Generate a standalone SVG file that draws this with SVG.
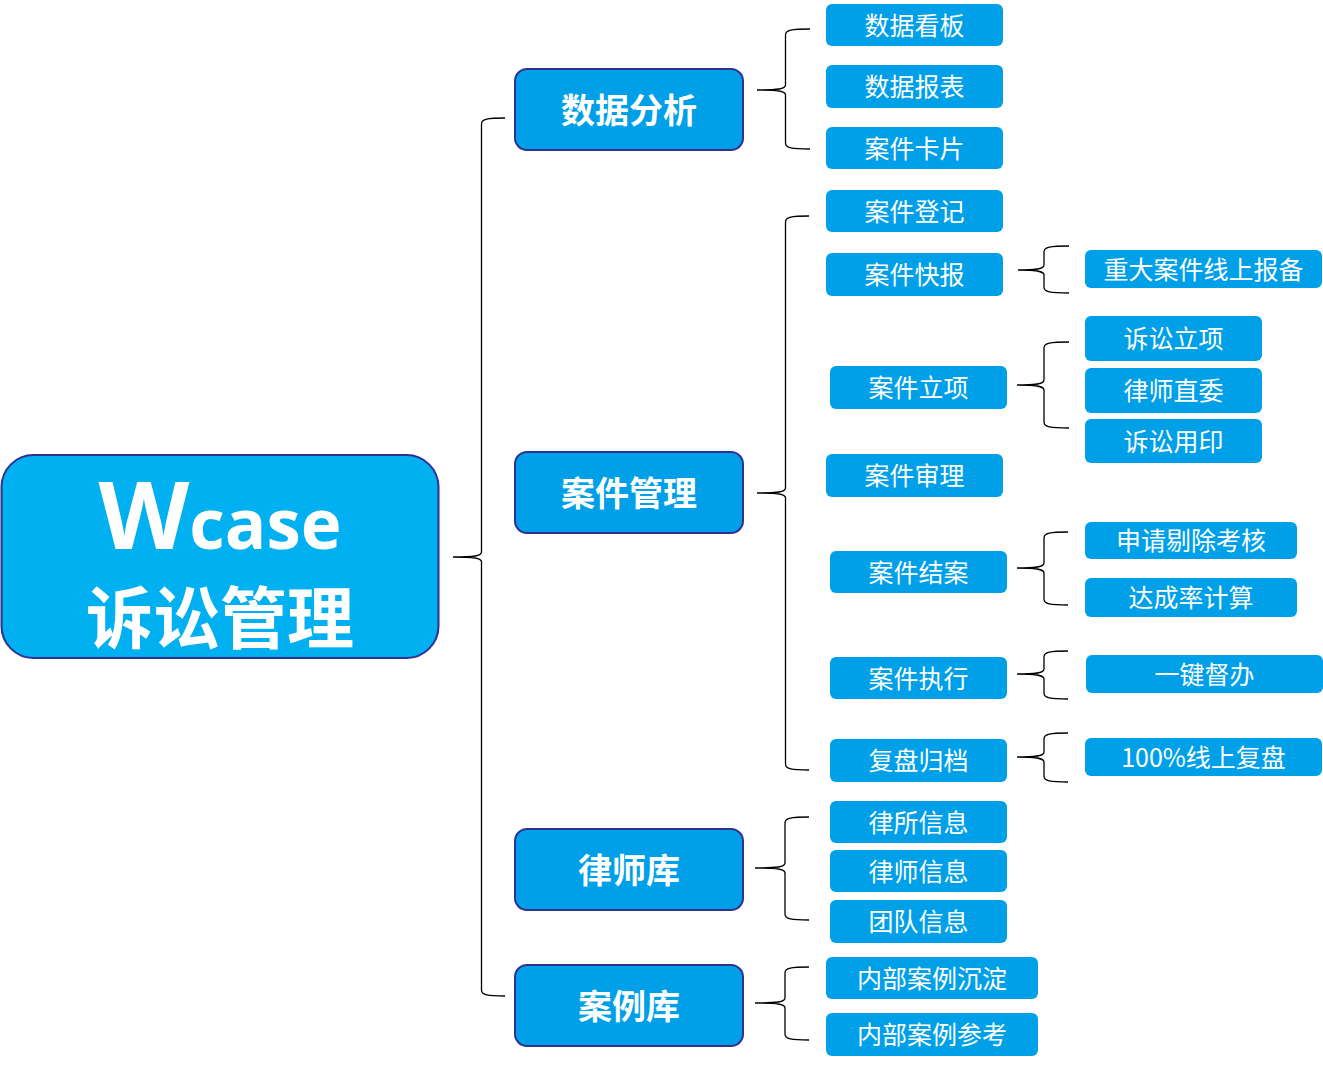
<svg xmlns="http://www.w3.org/2000/svg" width="1323" height="1065" viewBox="0 0 1323 1065">
<style>
.root{fill:#00b0f0;stroke:#2e3192;stroke-width:2}
.l2{fill:#00a0e9;stroke:#2e3192;stroke-width:2}
.leaf{fill:#00a0e9}
.t{fill:#fff;font-family:"Noto Sans CJK SC","Microsoft YaHei",sans-serif;text-anchor:middle;dominant-baseline:central}
.t2{font-size:34px;font-weight:700}
.t3{font-size:25px;font-weight:400}
.br{fill:none;stroke:#000;stroke-width:1.3}
</style>
<rect width="1323" height="1065" fill="#fff"/>
<g id="connectors">
<path class="br" d="M505,118 C487.5,118 481.5,119 481.5,124 L481.5,552 C481.5,556 473.5,557 453,557 C473.5,557 481.5,558 481.5,562 L481.5,990 C481.5,995 487.5,996 505,996"/>
<path class="br" d="M810,29 C791.5,29 785.5,30 785.5,35 L785.5,85 C785.5,89 777.5,90 757,90 C777.5,90 785.5,91 785.5,95 L785.5,143 C785.5,148 791.5,149 810,149"/>
<path class="br" d="M809,216 C791.5,216 785.5,217 785.5,222 L785.5,488 C785.5,492 777.5,493 757,493 C777.5,493 785.5,494 785.5,498 L785.5,764 C785.5,769 791.5,770 809,770"/>
<path class="br" d="M1069,246 C1050,246 1044,247 1044,252 L1044,265 C1044,269 1036,270 1018,270 C1036,270 1044,271 1044,275 L1044,287 C1044,292 1050,293 1069,293"/>
<path class="br" d="M1069,342 C1050,342 1044,343 1044,348 L1044,380 C1044,384 1036,385 1017,385 C1036,385 1044,386 1044,390 L1044,422 C1044,427 1050,428 1069,428"/>
<path class="br" d="M1068,532 C1050,532 1044,533 1044,538 L1044,563 C1044,567 1036,568 1017,568 C1036,568 1044,569 1044,573 L1044,599 C1044,604 1050,605 1068,605"/>
<path class="br" d="M1068,651 C1050,651 1044,652 1044,657 L1044,669 C1044,673 1036,674 1017,674 C1036,674 1044,675 1044,679 L1044,693 C1044,698 1050,699 1068,699"/>
<path class="br" d="M1068,733 C1050,733 1044,734 1044,739 L1044,752 C1044,756 1036,757 1017,757 C1036,757 1044,758 1044,762 L1044,776 C1044,781 1050,782 1068,782"/>
<path class="br" d="M809,817 C791,817 785,818 785,823 L785,863 C785,867 777,868 755,868 C777,868 785,869 785,873 L785,914 C785,919 791,920 809,920"/>
<path class="br" d="M809,967 C791,967 785,968 785,973 L785,998 C785,1002 777,1003 755,1003 C777,1003 785,1004 785,1008 L785,1034 C785,1039 791,1040 809,1040"/>
</g>
<g id="root">
<rect class="root" x="1.5" y="455" width="437" height="203" rx="32"/>
<text x="220" y="549" fill="#fff" text-anchor="middle" font-family="'Open Sans','Noto Sans',sans-serif" font-weight="700"><tspan font-size="94">W</tspan><tspan font-size="69">case</tspan></text>
<text class="t" x="220" y="613" font-size="67" font-weight="700">诉讼管理</text>
</g>
<g id="n-shujufenxi"><rect class="l2" x="515" y="69" width="228" height="81" rx="12"/><text class="t t2" x="629" y="108.5">数据分析</text></g>
<g id="n-anjianguanli"><rect class="l2" x="515" y="452" width="228" height="81" rx="12"/><text class="t t2" x="629" y="491.5">案件管理</text></g>
<g id="n-lvshiku"><rect class="l2" x="515" y="829" width="228" height="81" rx="12"/><text class="t t2" x="629" y="868.5">律师库</text></g>
<g id="n-anliku"><rect class="l2" x="515" y="965" width="228" height="81" rx="12"/><text class="t t2" x="629" y="1004.5">案例库</text></g>
<g id="n-shujukanban"><rect class="leaf" x="826" y="4" width="177" height="42" rx="6"/><text class="t t3" x="914.5" y="23.5">数据看板</text></g>
<g id="n-shujubaobiao"><rect class="leaf" x="826" y="65" width="177" height="43" rx="6"/><text class="t t3" x="914.5" y="85">数据报表</text></g>
<g id="n-anjiankapian"><rect class="leaf" x="826" y="127" width="177" height="42" rx="6"/><text class="t t3" x="914.5" y="146.5">案件卡片</text></g>
<g id="n-anjiandengji"><rect class="leaf" x="826" y="190" width="177" height="42" rx="6"/><text class="t t3" x="914.5" y="209.5">案件登记</text></g>
<g id="n-anjiankuaibao"><rect class="leaf" x="826" y="253" width="177" height="43" rx="6"/><text class="t t3" x="914.5" y="273">案件快报</text></g>
<g id="n-anjianlixiang"><rect class="leaf" x="830" y="366" width="177" height="43" rx="6"/><text class="t t3" x="918.5" y="386">案件立项</text></g>
<g id="n-anjianshenli"><rect class="leaf" x="826" y="454" width="177" height="43" rx="6"/><text class="t t3" x="914.5" y="474">案件审理</text></g>
<g id="n-anjianjiean"><rect class="leaf" x="830" y="551" width="177" height="42" rx="6"/><text class="t t3" x="918.5" y="570.5">案件结案</text></g>
<g id="n-anjianzhixing"><rect class="leaf" x="830" y="657" width="177" height="42" rx="6"/><text class="t t3" x="918.5" y="676.5">案件执行</text></g>
<g id="n-fupanguidang"><rect class="leaf" x="830" y="739" width="177" height="43" rx="6"/><text class="t t3" x="918.5" y="759">复盘归档</text></g>
<g id="n-lvsuoxinxi"><rect class="leaf" x="830" y="801" width="177" height="42" rx="6"/><text class="t t3" x="918.5" y="820.5">律所信息</text></g>
<g id="n-lvshixinxi"><rect class="leaf" x="830" y="850" width="177" height="42" rx="6"/><text class="t t3" x="918.5" y="869.5">律师信息</text></g>
<g id="n-tuanduixinxi"><rect class="leaf" x="830" y="900" width="177" height="43" rx="6"/><text class="t t3" x="918.5" y="920">团队信息</text></g>
<g id="n-neibuanlichendian"><rect class="leaf" x="826" y="957" width="212" height="42" rx="6"/><text class="t t3" x="932" y="976.5">内部案例沉淀</text></g>
<g id="n-neibuanlicankao"><rect class="leaf" x="826" y="1013" width="212" height="43" rx="6"/><text class="t t3" x="932" y="1033">内部案例参考</text></g>
<g id="n-zhongda"><rect class="leaf" x="1085" y="250" width="237" height="38" rx="6"/><text class="t t3" x="1203.5" y="267.5">重大案件线上报备</text></g>
<g id="n-susonglixiang"><rect class="leaf" x="1085" y="316" width="177" height="45" rx="6"/><text class="t t3" x="1173.5" y="337">诉讼立项</text></g>
<g id="n-lvshizhiwei"><rect class="leaf" x="1085" y="368" width="177" height="45" rx="6"/><text class="t t3" x="1173.5" y="389">律师直委</text></g>
<g id="n-susongyongyin"><rect class="leaf" x="1085" y="419" width="177" height="44" rx="6"/><text class="t t3" x="1173.5" y="439.5">诉讼用印</text></g>
<g id="n-shenqingtichu"><rect class="leaf" x="1085" y="522" width="212" height="37" rx="6"/><text class="t t3" x="1191" y="539">申请剔除考核</text></g>
<g id="n-dachenglv"><rect class="leaf" x="1085" y="578" width="212" height="39" rx="6"/><text class="t t3" x="1191" y="596">达成率计算</text></g>
<g id="n-yijianduban"><rect class="leaf" x="1086" y="655" width="237" height="38" rx="6"/><text class="t t3" x="1204.5" y="672.5">一键督办</text></g>
<g id="n-xianshangfupan"><rect class="leaf" x="1085" y="738" width="237" height="38" rx="6"/><text class="t t3" x="1203.5" y="755.5">100%线上复盘</text></g>
</svg>
